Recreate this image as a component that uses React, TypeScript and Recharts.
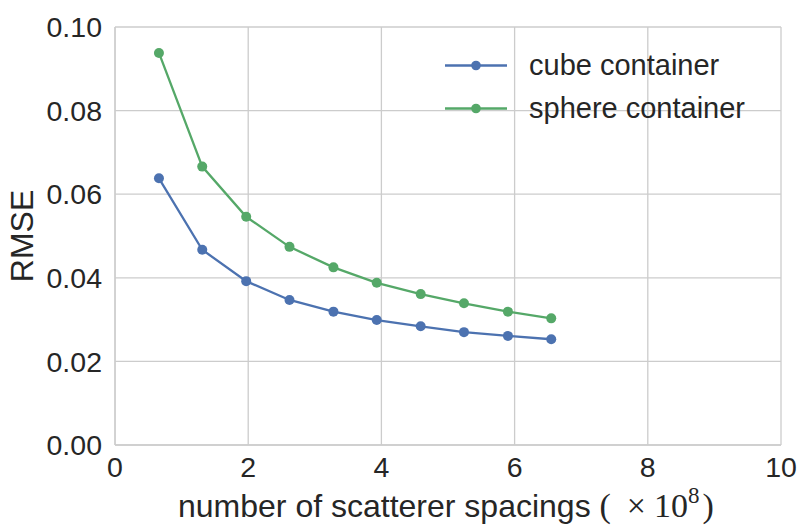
import { LineChart, Line, XAxis, YAxis, CartesianGrid } from 'recharts'

const spacings = [0.66, 1.31, 1.97, 2.62, 3.28, 3.93, 4.59, 5.24, 5.9, 6.55]
const cubeRmse = [0.0638, 0.0467, 0.0392, 0.0347, 0.0319, 0.0299, 0.0284, 0.027, 0.0261, 0.0253]
const sphereRmse = [0.0938, 0.0666, 0.0546, 0.0474, 0.0425, 0.0388, 0.0361, 0.0339, 0.0319, 0.0303]
const xTicks = [0, 2, 4, 6, 8, 10]
const yTicks = [0, 0.02, 0.04, 0.06, 0.08, 0.1]

const BLUE = '#4c72b0'
const GREEN = '#55a868'
const GRID = '#cccccc'
const TEXT = '#262626'
const SANS = '"Liberation Sans", Arial, sans-serif'
const SERIF = '"Liberation Serif", "DejaVu Serif", serif'

const series = [
  { key: 'cube', name: 'cube container', color: BLUE },
  { key: 'sphere', name: 'sphere container', color: GREEN },
]

// legend sits over the plot, no frame, like matplotlib's loc="upper right"
const LegendBox = () => (
  <div style={{ position: 'absolute', top: 43.5, left: 445, fontFamily: SANS, fontSize: 29, color: TEXT }}>
    {series.map((s) => (
      <div key={s.key} style={{ display: 'flex', alignItems: 'center', height: 43 }}>
        <svg width={62} height={43} style={{ display: 'block' }}>
          <line x1={0} y1={21.5} x2={62} y2={21.5} stroke={s.color} strokeWidth={2.3} />
          <circle cx={31} cy={21.5} r={4.8} fill={s.color} />
        </svg>
        <span style={{ marginLeft: 22, whiteSpace: 'nowrap' }}>{s.name}</span>
      </div>
    ))}
  </div>
)

const XLabel = () => (
  <text x={178} y={517} fill={TEXT} fontSize={32} fontFamily={SANS}>
    <tspan>number of scatterer spacings </tspan>
    <tspan fontFamily={SERIF} fontSize={34}>(</tspan>
    <tspan fontFamily={SERIF} fontSize={34} dx={16}>×</tspan>
    <tspan fontFamily={SERIF} fontSize={34} dx={8}>10</tspan>
    <tspan fontFamily={SERIF} fontSize={23} dy={-14}>8</tspan>
    <tspan fontFamily={SERIF} fontSize={34} dy={14} dx={3}>)</tspan>
  </text>
)

const YLabel = () => (
  <text
    x={33}
    y={236}
    transform="rotate(-90, 33, 236)"
    textAnchor="middle"
    fill={TEXT}
    fontSize={32}
    fontFamily={SANS}
  >
    RMSE
  </text>
)

export default function App() {
  const data = spacings.map((x, i) => ({ x, cube: cubeRmse[i], sphere: sphereRmse[i] }))

  return (
    <div style={{ position: 'fixed', left: 0, top: 0, width: 800, height: 525, background: '#fff' }}>
      <LineChart width={800} height={525} data={data} margin={{ top: 27, right: 19, bottom: 0, left: 0 }}>
        <CartesianGrid stroke={GRID} strokeWidth={1.3} />
        <XAxis
          dataKey="x"
          type="number"
          domain={[0, 10]}
          ticks={xTicks}
          height={80}
          tickLine={false}
          tickMargin={6}
          axisLine={{ stroke: GRID, strokeWidth: 1.3 }}
          tick={{ fill: TEXT, fontSize: 28.5, fontFamily: SANS }}
          label={<XLabel />}
        />
        <YAxis
          type="number"
          domain={[0, 0.1]}
          ticks={yTicks}
          width={115}
          tickLine={false}
          tickMargin={7}
          axisLine={{ stroke: GRID, strokeWidth: 1.3 }}
          tickFormatter={(v: number) => v.toFixed(2)}
          tick={{ fill: TEXT, fontSize: 28.5, fontFamily: SANS }}
          label={<YLabel />}
        />
        {series.map((s) => (
          <Line
            key={s.key}
            dataKey={s.key}
            name={s.name}
            stroke={s.color}
            strokeWidth={2.3}
            dot={{ r: 5, fill: s.color, stroke: s.color, strokeWidth: 0 }}
            isAnimationActive={false}
          />
        ))}
      </LineChart>
      <LegendBox />
    </div>
  )
}
